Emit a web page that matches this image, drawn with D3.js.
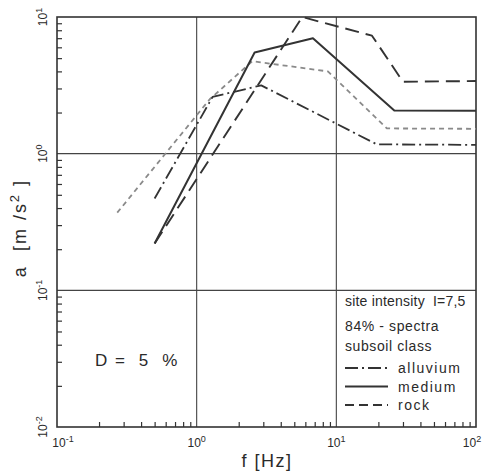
<!DOCTYPE html>
<html>
<head>
<meta charset="utf-8">
<script src="https://cdn.jsdelivr.net/npm/d3@7"></script>
<style>
  body { margin: 0; background: #fff; }
  svg text { font-family: "Liberation Sans", "DejaVu Sans", sans-serif; fill: #2a2a2a; white-space: pre; }
</style>
</head>
<body>
<div id="chart"></div>
<script>
let width = 483;
let height = 472;

// log-log axes, frequency in Hz, acceleration in m/s^2
let xDecades = [0.1, 1, 10, 100];
let yDecades = [0.01, 0.1, 1, 10];
let xTickLabels = ["-1", "0", "1", "2"];
let yTickLabels = ["-2", "-1", "0", "1"];

// 84%-spectra
let freqAlluvium = [0.5, 1.3, 2.9, 19.5, 100];
let accAlluvium = [0.47, 2.6, 3.16, 1.17, 1.16];
let freqMedium = [0.5, 2.6, 6.8, 26, 100];
let accMedium = [0.22, 5.5, 7.0, 2.07, 2.06];
let freqRock = [0.5, 5.7, 18, 30, 100];
let accRock = [0.22, 10, 7.3, 3.36, 3.4];
// light short-dashed curve (no legend entry)
let freqGrey = [0.27, 1.24, 2.5, 8.7, 23, 100];
let accGrey = [0.37, 2.5, 4.75, 4.0, 1.53, 1.52];

let legendNames = ["alluvium", "medium", "rock"];
let legendDash = ["13,4,2,4", null, "9,5"];

let pLeft = 57, pRight = 476, pTop = 17, pBottom = 427;

let x = d3.scaleLog().domain([0.1, 100]).range([pLeft, pRight]);
let y = d3.scaleLog().domain([0.01, 10]).range([pBottom, pTop]);

let svg = d3.select("#chart")
  .append("svg")
  .attr("width", width)
  .attr("height", height);

// minor ticks 2..9 inside each decade
let minorX = [];
for (let d of xDecades.slice(0, 3)) {
  for (let k = 2; k <= 9; k++) minorX.push(d * k);
}
let minorY = [];
for (let d of yDecades.slice(0, 3)) {
  for (let k = 2; k <= 9; k++) minorY.push(d * k);
}

svg.append("g")
  .attr("transform", "translate(0," + pBottom + ")")
  .call(d3.axisBottom(x).tickValues(minorX).tickSize(-5).tickFormat(""))
  .call(g => g.select(".domain").remove())
  .selectAll("line").attr("stroke", "#333").attr("stroke-width", 1.2);

svg.append("g")
  .attr("transform", "translate(" + pLeft + ",0)")
  .call(d3.axisLeft(y).tickValues(minorY).tickSize(-5).tickFormat(""))
  .call(g => g.select(".domain").remove())
  .selectAll("line").attr("stroke", "#333").attr("stroke-width", 1.2);

// grid lines at the decades
let grid = svg.append("g").attr("stroke", "#444").attr("stroke-width", 1.1);
grid.selectAll(".gx").data([1, 10]).enter().append("line")
  .attr("x1", d => x(d)).attr("x2", d => x(d))
  .attr("y1", pTop).attr("y2", pBottom);
grid.selectAll(".gy").data([0.1, 1]).enter().append("line")
  .attr("x1", pLeft).attr("x2", pRight)
  .attr("y1", d => y(d)).attr("y2", d => y(d));

// frame
svg.append("rect")
  .attr("x", pLeft).attr("y", pTop)
  .attr("width", pRight - pLeft).attr("height", pBottom - pTop)
  .attr("fill", "none").attr("stroke", "#333").attr("stroke-width", 1.6);

// tick labels, 10 with exponent
xDecades.forEach(function(d, i) {
  let t = svg.append("text")
    .attr("font-size", 12)
    .attr("x", i == 3 ? x(d) - 4 : x(d) + (i == 0 ? 6 : 0))
    .attr("y", pBottom + 20)
    .attr("text-anchor", "middle");
  t.append("tspan").text("10");
  t.append("tspan").attr("dy", -5).attr("font-size", 9).text(xTickLabels[i]);
});

yDecades.forEach(function(d, i) {
  let t = svg.append("text")
    .attr("font-size", 12)
    .attr("transform", "translate(" + (pLeft - 10) + "," + y(d) + ") rotate(-90)")
    .attr("text-anchor", "middle");
  t.append("tspan").text("10");
  t.append("tspan").attr("dy", -5).attr("font-size", 9).text(yTickLabels[i]);
});

// axis titles
svg.append("text")
  .attr("x", 267).attr("y", 467)
  .attr("text-anchor", "middle").attr("font-size", 18)
  .attr("letter-spacing", 1.5)
  .text("f [Hz]");

let yt = svg.append("text")
  .attr("transform", "translate(26,228) rotate(-90)")
  .attr("text-anchor", "middle").attr("font-size", 18)
  .attr("letter-spacing", 2);
yt.append("tspan").text("a  [m /s");
yt.append("tspan").attr("dy", -7).attr("font-size", 13).text("2");
yt.append("tspan").attr("dy", 7).text(" ]");

// spectra
let line = d3.line()
  .x(d => x(d[0]))
  .y(d => y(d[1]));

let curves = [
  { f: freqGrey, a: accGrey, dash: "5,4", color: "#8a8a8a", w: 1.8 },
  { f: freqAlluvium, a: accAlluvium, dash: "13,4,2,4", color: "#333", w: 1.8 },
  { f: freqMedium, a: accMedium, dash: null, color: "#333", w: 2 },
  { f: freqRock, a: accRock, dash: "14,7", color: "#333", w: 1.9 }
];

svg.append("g").selectAll("path")
  .data(curves)
  .enter().append("path")
  .attr("d", c => line(d3.zip(c.f, c.a)))
  .attr("fill", "none")
  .attr("stroke", c => c.color)
  .attr("stroke-width", c => c.w)
  .attr("stroke-dasharray", c => c.dash)
  .attr("stroke-linejoin", "round");

// damping note
svg.append("text")
  .attr("x", 95).attr("y", 366)
  .attr("font-size", 17)
  .attr("letter-spacing", 1.5)
  .text("D =  5  %");

// legend in the lower right cell
let lg = svg.append("g").attr("font-size", 14).attr("letter-spacing", 0.2);
lg.append("text").attr("x", 345).attr("y", 306).text("site intensity  I=7,5");
lg.append("text").attr("x", 345).attr("y", 331).attr("letter-spacing", 0.6).text("84% - spectra");
lg.append("text").attr("x", 345).attr("y", 351).attr("letter-spacing", 0.6).text("subsoil class");

legendNames.forEach(function(name, i) {
  let ly = 368 + i * 18.5;
  lg.append("line")
    .attr("x1", 345).attr("x2", 388)
    .attr("y1", ly).attr("y2", ly)
    .attr("stroke", "#333").attr("stroke-width", 1.8)
    .attr("stroke-dasharray", legendDash[i]);
  lg.append("text").attr("x", 398).attr("y", ly + 5).attr("letter-spacing", 1.5).text(name);
});
</script>
</body>
</html>
